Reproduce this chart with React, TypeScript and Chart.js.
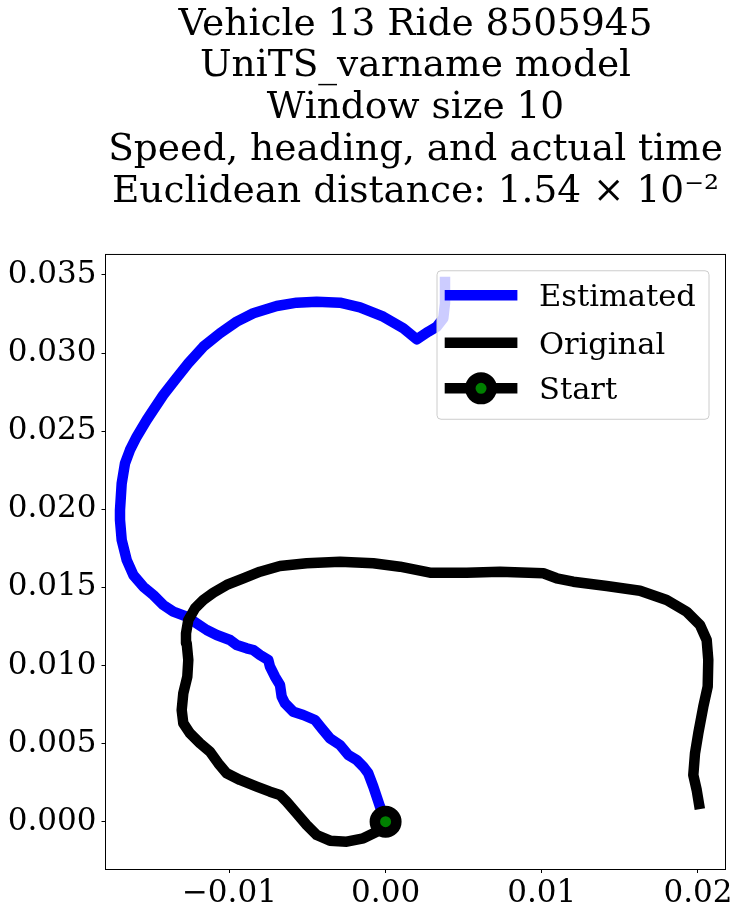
import React, { useEffect, useRef } from "react";
import { Chart, registerables } from "chart.js";

Chart.register(...registerables);

const TITLE_LINES = [
  "Vehicle 13 Ride 8505945",
  "UniTS_varname model",
  "Window size 10",
  "Speed, heading, and actual time",
  "Euclidean distance: 1.54 × 10⁻²",
];

const LEGEND_LABELS = ["Estimated", "Original", "Start"];

const ESTIMATED_X = [
  0, -0.000359, -0.000787, -0.001108, -0.001428, -0.00185, -0.002388, -0.002919,
  -0.00356, -0.004091, -0.00452, -0.005269, -0.005909, -0.00644, -0.006652, -0.006761,
  -0.007081, -0.007401, -0.00751, -0.008041, -0.00847, -0.008893, -0.009533, -0.009962,
  -0.010813, -0.011453, -0.012093, -0.012734, -0.013592, -0.014232, -0.014872, -0.015512,
  -0.016153, -0.016575, -0.016895, -0.017004, -0.017004, -0.016895, -0.016684, -0.016364,
  -0.015935, -0.015295, -0.014872, -0.014232, -0.013483, -0.012631, -0.011671, -0.010602,
  -0.009533, -0.00847, -0.006972, -0.005691, -0.004411, -0.002919, -0.001639, -0.000147,
  0.001133, 0.001991, 0.002734, 0.003271, 0.003694, 0.003803, 0.003803,
];
const ESTIMATED_Y = [
  0, 0.00096, 0.002241, 0.003099, 0.003521, 0.00395, 0.00427, 0.00491,
  0.005339, 0.00598, 0.006511, 0.006831, 0.007042, 0.00758, 0.008003, 0.008752,
  0.009283, 0.009923, 0.010352, 0.010672, 0.010992, 0.011101, 0.011312, 0.011633,
  0.011953, 0.012273, 0.012702, 0.013124, 0.013444, 0.013873, 0.014513, 0.015045,
  0.015794, 0.016754, 0.018035, 0.019315, 0.019955, 0.021665, 0.022945, 0.023797,
  0.024648, 0.025717, 0.026357, 0.027318, 0.028278, 0.029347, 0.03041, 0.031268,
  0.03201, 0.032548, 0.033015, 0.033227, 0.033291, 0.033227, 0.032932, 0.03233,
  0.031588, 0.030883, 0.03137, 0.03169, 0.032228, 0.033188, 0.034552,
];

const ORIGINAL_X = [
  0, -0.00057, -0.001428, -0.00249, -0.00356, -0.004411, -0.005051, -0.005691,
  -0.006332, -0.006761, -0.007401, -0.008252, -0.009321, -0.010173, -0.010711, -0.011242,
  -0.011882, -0.012523, -0.012951, -0.013054, -0.012951, -0.012695, -0.012631, -0.012734,
  -0.012778, -0.012631, -0.012202, -0.011671, -0.011031, -0.010173, -0.00911, -0.008041,
  -0.006761, -0.005051, -0.002919, -0.000787, 0.000922, 0.002843, 0.005192, 0.007324,
  0.010096, 0.010954, 0.012017, 0.014155, 0.016287, 0.017996, 0.019277, 0.020128,
  0.020557, 0.020659, 0.020621, 0.020339, 0.020019, 0.019808, 0.019699, 0.019917, 0.020064,
];
const ORIGINAL_Y = [
  0, -0.00064, -0.001063, -0.00128, -0.001216, -0.000851, -0.000211, 0.000538,
  0.00128, 0.001709, 0.001921, 0.002241, 0.00267, 0.003099, 0.003739, 0.004481,
  0.005019, 0.005659, 0.0063, 0.007151, 0.00822, 0.009283, 0.010352, 0.011421,
  0.012061, 0.012913, 0.013662, 0.014193, 0.014661, 0.015154, 0.015583, 0.016005,
  0.01637, 0.016543, 0.016645, 0.016543, 0.016325, 0.015941, 0.015941, 0.016005,
  0.015903, 0.015583, 0.015365, 0.01509, 0.014789, 0.014193, 0.013444, 0.012593,
  0.011633, 0.010352, 0.008643, 0.007362, 0.005659, 0.004379, 0.00299, 0.002029, 0.001133,
];

const START_X = [0];
const START_Y = [0];

const X_TICKS = [-0.01, 0, 0.01, 0.02];
const X_TICK_LABELS = ["\u22120.01", "0.00", "0.01", "0.02"];
const Y_TICKS = [0, 0.005, 0.01, 0.015, 0.02, 0.025, 0.03, 0.035];
const Y_TICK_LABELS = ["0.000", "0.005", "0.010", "0.015", "0.020", "0.025", "0.030", "0.035"];

const X_MIN = -0.017932;
const X_MAX = 0.021761;
const Y_MIN = -0.00306;
const Y_MAX = 0.036313;

const FONT = "DejaVu Serif";

const toPoints = (xs: number[], ys: number[]) => xs.map((x, i) => ({ x, y: ys[i] }));

const framePlugin = {
  id: "frame",
  afterDatasetsDraw(chart: any) {
    const { ctx, chartArea } = chart;
    ctx.save();
    ctx.strokeStyle = "#000";
    ctx.lineWidth = 1;
    ctx.strokeRect(chartArea.left, chartArea.top, chartArea.right - chartArea.left, chartArea.bottom - chartArea.top);
    ctx.restore();
  },
};

const legendPlugin = {
  id: "insideLegend",
  afterDraw(chart: any) {
    const { ctx, chartArea } = chart;
    const w = 272;
    const h = 148.5;
    const x = chartArea.right - 16.5 - w;
    const y = chartArea.top + 16.3;
    ctx.save();
    ctx.beginPath();
    ctx.roundRect(x, y, w, h, 4);
    ctx.fillStyle = "rgba(255,255,255,0.8)";
    ctx.fill();
    ctx.strokeStyle = "#cccccc";
    ctx.lineWidth = 1;
    ctx.stroke();
    const rows = [24.6, 72.1, 117.6];
    const ds = chart.data.datasets;
    const idx = [2, 1, 0];
    idx.forEach((di, i) => {
      const d = ds[di];
      const cy = y + rows[i];
      const hx1 = x + 7.7;
      const hx2 = x + 80.4;
      ctx.beginPath();
      ctx.moveTo(hx1, cy);
      ctx.lineTo(hx2, cy);
      ctx.lineCap = "butt";
      ctx.lineWidth = 10.5;
      ctx.strokeStyle = d.showLine ? d.borderColor : d.pointBorderColor;
      ctx.stroke();
      if (!d.showLine) {
        const mx = (hx1 + hx2) / 2;
        ctx.beginPath();
        ctx.arc(mx, cy, d.pointRadius, 0, Math.PI * 2);
        ctx.fillStyle = d.pointBackgroundColor;
        ctx.fill();
        ctx.lineWidth = d.pointBorderWidth;
        ctx.strokeStyle = d.pointBorderColor;
        ctx.stroke();
      }
      ctx.fillStyle = "#000";
      ctx.font = `30.5px "${FONT}"`;
      ctx.textAlign = "left";
      ctx.textBaseline = "alphabetic";
      ctx.fillText(LEGEND_LABELS[i], x + 102, cy + 11.1);
    });
    ctx.restore();
  },
};

export default function App() {
  const ref = useRef<HTMLCanvasElement | null>(null);
  useEffect(() => {
    if (!ref.current) return;
    const chart = new Chart(ref.current, {
      type: "scatter",
      data: {
        datasets: [
          {
            label: LEGEND_LABELS[2],
            data: toPoints(START_X, START_Y),
            showLine: false,
            pointRadius: 10.75,
            pointBorderWidth: 10.5,
            pointBackgroundColor: "#008000",
            pointBorderColor: "#000000",
            pointHoverRadius: 10.75,
            order: 0,
            clip: 20,
          } as any,
          {
            label: LEGEND_LABELS[1],
            data: toPoints(ORIGINAL_X, ORIGINAL_Y),
            showLine: true,
            borderColor: "#000000",
            borderWidth: 10.5,
            borderCapStyle: "square",
            borderJoinStyle: "round",
            pointRadius: 0,
            tension: 0,
            order: 1,
            clip: 0,
          } as any,
          {
            label: LEGEND_LABELS[0],
            data: toPoints(ESTIMATED_X, ESTIMATED_Y),
            showLine: true,
            borderColor: "#0000ff",
            borderWidth: 10.5,
            borderCapStyle: "square",
            borderJoinStyle: "round",
            pointRadius: 0,
            tension: 0,
            order: 2,
            clip: 0,
          } as any,
        ],
      },
      options: {
        animation: false,
        responsive: false,
        devicePixelRatio: 1,
        events: [],
        layout: { autoPadding: false, padding: { left: 0, right: 13.5, top: 0, bottom: 0 } },
        plugins: {
          legend: { display: false },
          tooltip: { enabled: false },
          title: {
            display: true,
            fullSize: false,
            text: TITLE_LINES,
            color: "#000",
            font: { family: FONT, size: 37.5, weight: "normal", lineHeight: 1.115 },
            padding: { top: 4, bottom: 41.4 },
          },
        },
        scales: {
          x: {
            type: "linear",
            min: X_MIN,
            max: X_MAX,
            afterBuildTicks: (s: any) => {
              s.ticks = X_TICKS.map((value) => ({ value }));
            },
            afterFit: (s: any) => {
              s.height = 47.5;
              s.paddingLeft = 0;
              s.paddingRight = 0;
            },
            ticks: {
              callback: (_v: any, i: number) => X_TICK_LABELS[i],
              color: "#000",
              font: { family: FONT, size: 31 },
              padding: 2,
              maxRotation: 0,
              autoSkip: false,
            },
            grid: { drawOnChartArea: false, drawTicks: true, tickLength: 3.5, color: "#000", lineWidth: 1 },
            border: { display: false },
          },
          y: {
            type: "linear",
            min: Y_MIN,
            max: Y_MAX,
            afterBuildTicks: (s: any) => {
              s.ticks = Y_TICKS.map((value) => ({ value }));
            },
            afterFit: (s: any) => {
              s.width = 105.5;
              s.paddingTop = 0;
              s.paddingBottom = 0;
            },
            ticks: {
              callback: (_v: any, i: number) => Y_TICK_LABELS[i],
              color: "#000",
              font: { family: FONT, size: 31 },
              padding: 5,
              autoSkip: false,
            },
            grid: { drawOnChartArea: false, drawTicks: true, tickLength: 4, color: "#000", lineWidth: 1 },
            border: { display: false },
          },
        },
      } as any,
      plugins: [framePlugin, legendPlugin],
    });
    return () => chart.destroy();
  }, []);
  return (
    <div style={{ position: "absolute", left: 0, top: 0, width: 739, height: 917, background: "#fff" }}>
      <canvas ref={ref} width={739} height={917} style={{ display: "block" }} />
    </div>
  );
}
